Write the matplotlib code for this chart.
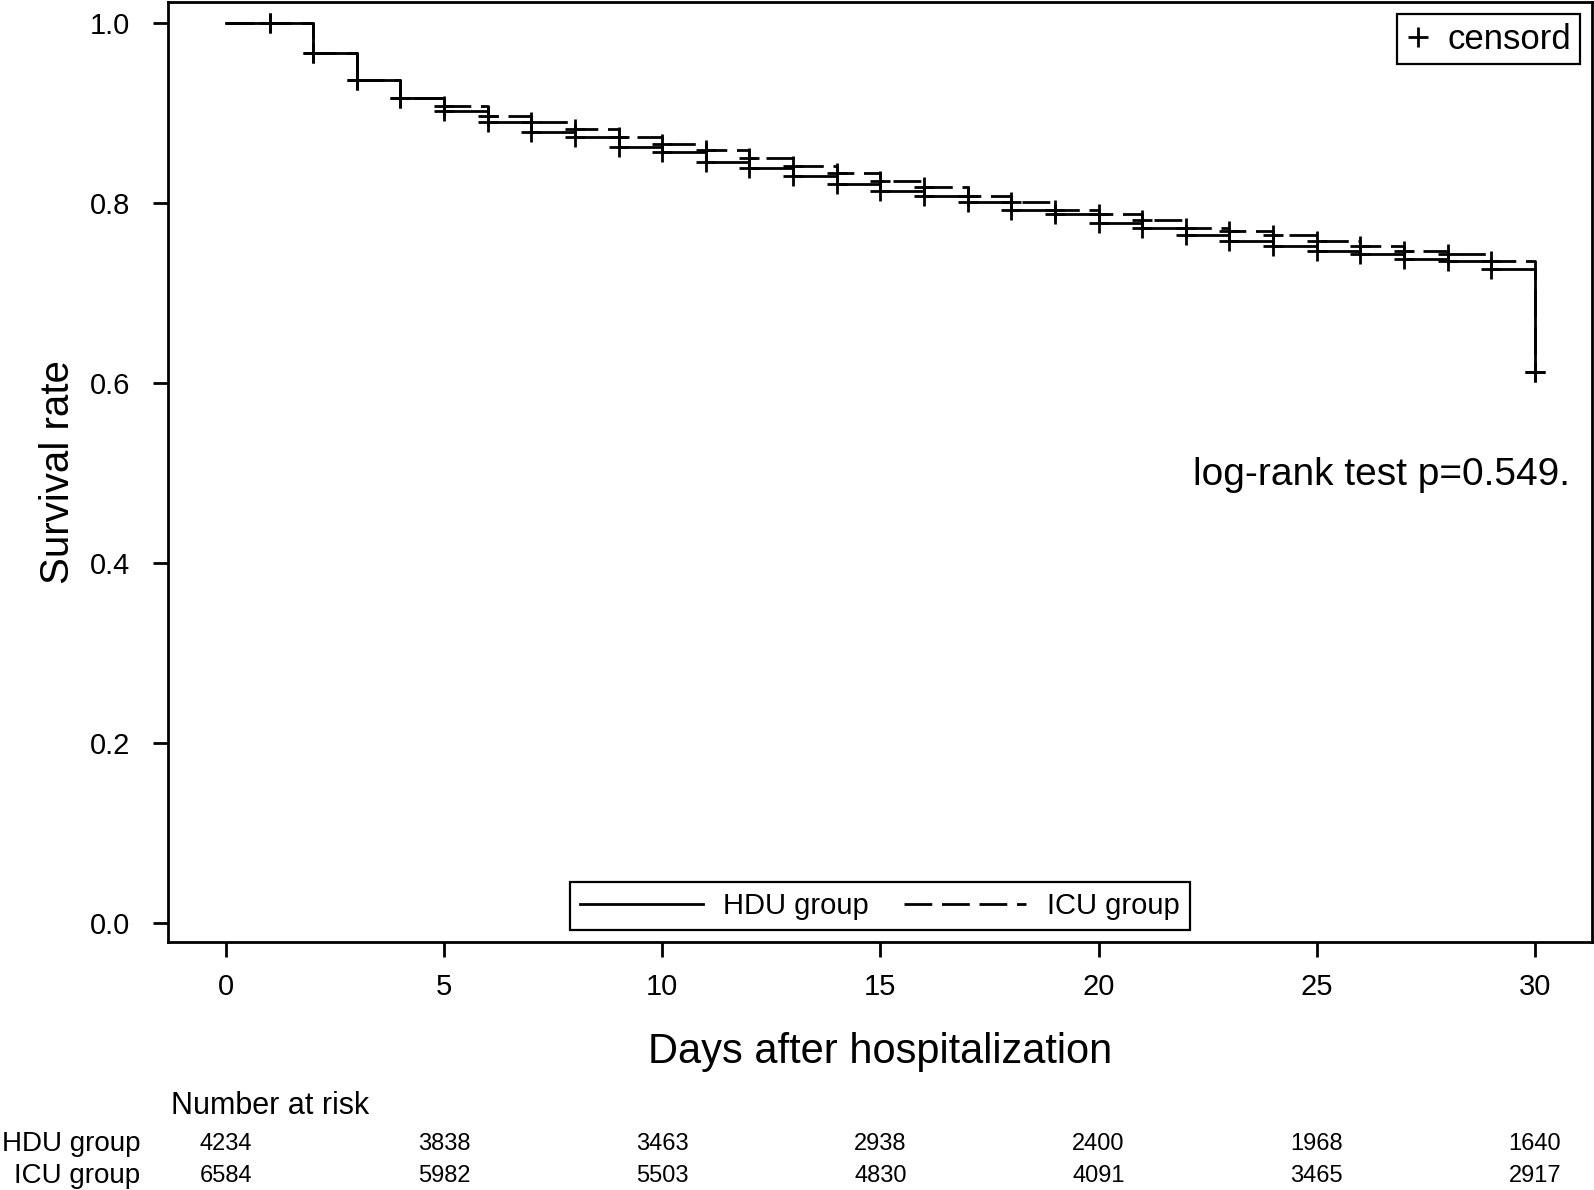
import matplotlib

matplotlib.use("Agg")
import matplotlib.pyplot as plt
from matplotlib.lines import Line2D
from matplotlib.transforms import blended_transform_factory

plt.rcParams["font.family"] = ["Liberation Sans", "DejaVu Sans"]

# Kaplan-Meier estimates (value after each day's step)
days = list(range(0, 31))
hdu = [1.0, 1.0, 0.966, 0.936, 0.916, 0.902, 0.890, 0.879, 0.873, 0.862, 0.856,
       0.845, 0.839, 0.830, 0.821, 0.813, 0.807, 0.801, 0.792, 0.787, 0.778,
       0.772, 0.764, 0.758, 0.752, 0.746, 0.743, 0.738, 0.735, 0.726, 0.612]
icu = [1.0, 1.0, 0.966, 0.936, 0.916, 0.908, 0.896, 0.890, 0.882, 0.873, 0.865,
       0.859, 0.850, 0.841, 0.833, 0.824, 0.818, 0.807, 0.801, 0.792, 0.787,
       0.781, 0.772, 0.769, 0.764, 0.757, 0.752, 0.746, 0.743, 0.735, 0.612]

risk_days = [0, 5, 10, 15, 20, 25, 30]
hdu_risk = [4234, 3838, 3463, 2938, 2400, 1968, 1640]
icu_risk = [6584, 5982, 5503, 4830, 4091, 3465, 2917]

groups = ["HDU group", "ICU group"]
p_text = "log-rank test p=0.549."

lw = 2.0
dash = (10, 3.5)

fig = plt.figure(figsize=(15.94, 11.90), dpi=100)
ax = fig.add_axes([0.1052, 0.2084, 0.8935, 0.7899])

ax.plot(days, hdu, drawstyle="steps-post", color="black", lw=lw)
ax.plot(days, icu, drawstyle="steps-post", color="black", lw=lw, dashes=dash)
ax.plot(days[1:], hdu[1:], "+", color="black", ms=14, mew=lw)
ax.plot(days[1:], icu[1:], "+", color="black", ms=14, mew=lw)

ax.set_xlim(-1.336, 31.31)
ax.set_ylim(-0.0214, 1.023)
ax.set_xticks([0, 5, 10, 15, 20, 25, 30])
ax.set_yticks([0.0, 0.2, 0.4, 0.6, 0.8, 1.0])
ax.set_yticklabels([f"{v:.1f}" for v in [0.0, 0.2, 0.4, 0.6, 0.8, 1.0]])
ax.tick_params(labelsize=21, length=11, width=lw)
ax.tick_params(axis="x", pad=11)
ax.tick_params(axis="y", pad=16)
for s in ax.spines.values():
    s.set_linewidth(lw)

ax.set_xlabel("Days after hospitalization", fontsize=30)
ax.set_ylabel("Survival rate", fontsize=29)
ax.xaxis.set_label_coords(0.5, -0.096)
ax.yaxis.set_label_coords(-0.064, 0.5)

# group legend at the bottom of the plot area
handles = [
    Line2D([], [], color="black", lw=lw),
    Line2D([], [], color="black", lw=lw, dashes=dash),
]
leg = ax.legend(handles, groups, loc="lower center", bbox_to_anchor=(0.5, 0.0128),
                ncol=2, fontsize=21, handlelength=4.2, handletextpad=0.7,
                columnspacing=1.2, borderaxespad=0, fancybox=False,
                framealpha=1, edgecolor="black", borderpad=0.35)
leg.get_frame().set_linewidth(1.6)
ax.add_artist(leg)

cens = ax.legend([Line2D([], [], color="black", marker="+", ls="none", ms=14, mew=lw)],
                 ["censord"], loc="upper right", bbox_to_anchor=(0.9916, 0.9872),
                 fontsize=25, handlelength=0.7, handletextpad=0.5, borderaxespad=0,
                 fancybox=False, framealpha=1, edgecolor="black", borderpad=0.25)
cens.get_frame().set_linewidth(1.6)

ax.text(0.9846, 0.4968, p_text, transform=ax.transAxes, ha="right", va="center",
        fontsize=28)

# number at risk table
fig.text(0.1073, 0.0705, "Number at risk", fontsize=22, va="center", ha="left")
tr = blended_transform_factory(ax.transData, fig.transFigure)
for yy, name, risk in [(0.0385, groups[0], hdu_risk), (0.0115, groups[1], icu_risk)]:
    fig.text(0.088, yy, name, fontsize=20, va="center", ha="right")
    for d, n in zip(risk_days, risk):
        ax.text(d, yy, str(n), transform=tr, fontsize=17, ha="center", va="center")

fig.savefig("out.png", dpi=100)
